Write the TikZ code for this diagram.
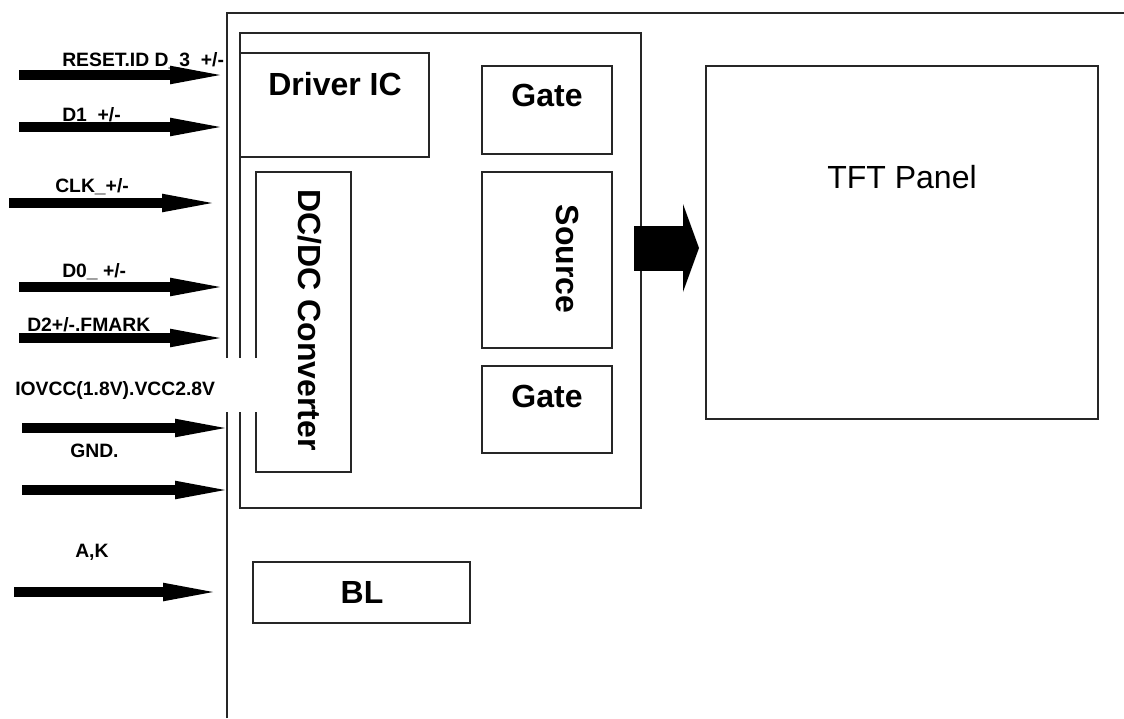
\documentclass[tikz,border=0pt]{standalone}
\usepackage{fontspec}
\setmainfont{Liberation Sans}
\usetikzlibrary{positioning}
\usetikzlibrary{fit}
\usetikzlibrary{arrows.meta}

\begin{document}
\begin{tikzpicture}[x=0.75pt,y=-0.75pt,
  box/.style={draw=black!85,line width=1.1pt,inner sep=0pt},
  big/.style={font=\bfseries\fontsize{24}{28}\selectfont,inner sep=0pt},
  lbl/.style={font=\bfseries\fontsize{14.5}{17}\selectfont,inner sep=0pt,anchor=base west},
  inarrow/.style={line width=7.5pt,-{Triangle[length=37.5pt,width=14pt,line width=0pt]}},
  outarrow/.style={line width=33.75pt,-{Triangle[length=12pt,width=66pt,line width=0pt]}}]
 \useasboundingbox (0,0) rectangle (1124,718);
 \draw[line width=1.1pt,black!85] (227,718) -- (227,13) -- (1124,13);
 \node[box,fit={(240,33) (641,508)}] (mod) {};
 \node[box,fit={(240,53) (429,157)}] (drv) {};
 \node[box,fit={(256,172) (351,472)}] (dcdc) {};
 \node[box,fit={(482,66) (612,154)}] (gtop) {};
 \node[box,fit={(482,172) (612,348)}] (src) {};
 \node[box,fit={(482,366) (612,453)}] (gbot) {};
 \node[box,fit={(253,562) (470,623)}] (bl) {};
 \node[box,fit={(706,66) (1098,419)}] (tft) {};
 \node[big] (drvtxt) at (335,84) {Driver IC};
 \node[big] (gtoptxt) at (547,95) {Gate};
 \node[big] (gbottxt) at (547,396) {Gate};
 \node[big,rotate=-90] (srctxt) at (568,259) {Source};
 \node[big,rotate=-90] (dcdctxt) at (310,320) {DC/DC Converter};
 \node[big] (bltxt) at (362,592) {BL};
 \node[inner sep=0pt,font=\fontsize{24}{28}\selectfont] (tfttxt) at (902,177) {TFT Panel};
 \coordinate (outS) at (634,248);
 \coordinate (outE) at (699,248);
 \draw[outarrow] (outS) -- (outE);
 \node[fill=white,inner sep=0pt,fit={(8,358) (262,412)}] (vccbg) {};
 \node[lbl] (rsttxt) at (62,66) {RESET.ID D\_3\ \ +/-};
 \node[lbl] (d1txt) at (62,121) {D1\ \ +/-};
 \node[lbl] (clktxt) at (55,192) {CLK\_+/-};
 \node[lbl] (d0txt) at (62,277) {D0\_\ +/-};
 \node[lbl] (d2txt) at (27,331) {D2+/-.FMARK};
 \node[lbl] (vcctxt) at (15,395) {IOVCC(1.8V).VCC2.8V};
 \node[lbl] (gndtxt) at (70,457) {GND.};
 \node[lbl] (aktxt) at (75,557) {A,K};
 \coordinate (rst0) at (19,75);
 \coordinate (rst1) at (220,75);
 \coordinate (d10) at (19,127);
 \coordinate (d11) at (220,127);
 \coordinate (clk0) at (9,203);
 \coordinate (clk1) at (212,203);
 \coordinate (d00) at (19,287);
 \coordinate (d01) at (220,287);
 \coordinate (d20) at (19,338);
 \coordinate (d21) at (220,338);
 \coordinate (vcc0) at (22,428);
 \coordinate (vcc1) at (225,428);
 \coordinate (gnd0) at (22,490);
 \coordinate (gnd1) at (225,490);
 \coordinate (ak0) at (14,592);
 \coordinate (ak1) at (213,592);
 \draw[inarrow] (rst0) -- (rst1);
 \draw[inarrow] (d10) -- (d11);
 \draw[inarrow] (clk0) -- (clk1);
 \draw[inarrow] (d00) -- (d01);
 \draw[inarrow] (d20) -- (d21);
 \draw[inarrow] (vcc0) -- (vcc1);
 \draw[inarrow] (gnd0) -- (gnd1);
 \draw[inarrow] (ak0) -- (ak1);
\end{tikzpicture}
\end{document}
